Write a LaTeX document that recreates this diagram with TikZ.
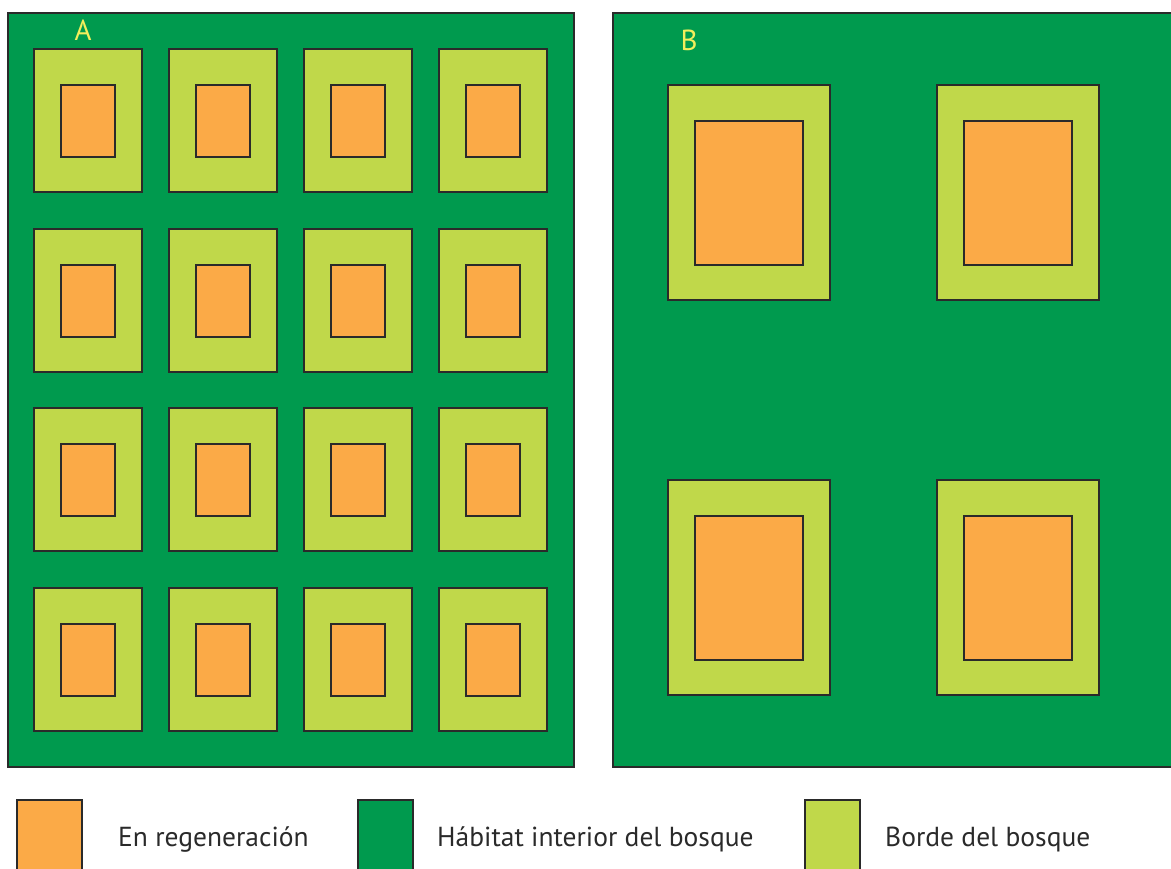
\documentclass[tikz,border=0pt]{standalone}
\usepackage{fontspec}
\setmainfont{PT Sans}
\definecolor{forest}{HTML}{009A4E}
\definecolor{edge}{HTML}{C0D84A}
\definecolor{regen}{HTML}{FBAA47}
\definecolor{lbl}{HTML}{F2EE5C}
\definecolor{ink}{HTML}{2A2A2A}
\tikzset{
  box/.style={draw=ink, line width=1.7pt, inner sep=0pt, outer sep=0pt, anchor=north west},
  panel/.style={box, fill=forest},
  border/.style={box, fill=edge},
  core/.style={box, fill=regen},
  leg/.style={anchor=base west, font=\fontsize{27.5}{30}\selectfont, text=ink, inner sep=0pt},
  tag/.style={font=\fontsize{29}{32}\selectfont, text=lbl, inner sep=0pt}
}
\begin{document}
\begin{tikzpicture}[x=1pt,y=-1pt]
\useasboundingbox (0,0) rectangle (1171,869);
\begin{scope}
\clip (0,0) rectangle (1171,869);
% panels
\node[panel, minimum width=566pt, minimum height=754pt] (pA) at (8,13) {};
\node[panel, minimum width=600pt, minimum height=754pt] (pB) at (613,13) {};
\node[tag] (tA) at (83,30) {A};
\node[tag] (tB) at (689,40) {B};
% panel A grid
\foreach \c/\x in {1/34,2/169,3/304,4/439}{
  \foreach \r/\y in {1/49,2/229,3/408,4/588}{
    \node[border, minimum width=108pt, minimum height=143pt] (a\r\c) at (\x,\y) {};
    \node[core, minimum width=54pt, minimum height=72pt] (ac\r\c) at (\x+27,\y+36) {};
  }
}
% panel B
\foreach \c/\x in {1/668,2/937}{
  \foreach \r/\y in {1/85,2/480}{
    \node[border, minimum width=162pt, minimum height=215pt] (b\r\c) at (\x,\y) {};
    \node[core, minimum width=108pt, minimum height=144pt] (bc\r\c) at (\x+27,\y+36) {};
  }
}
% legend
\node[core, minimum width=65pt, minimum height=90pt] (k1) at (17,800) {};
\node[panel, minimum width=55pt, minimum height=90pt] (k2) at (358,800) {};
\node[border, minimum width=55pt, minimum height=90pt] (k3) at (805,800) {};
\end{scope}
\node[leg] (t1) at (118,846) {En regeneración};
\node[leg] (t2) at (437,846) {Hábitat interior del bosque};
\node[leg] (t3) at (885,846) {Borde del bosque};
\end{tikzpicture}
\end{document}
